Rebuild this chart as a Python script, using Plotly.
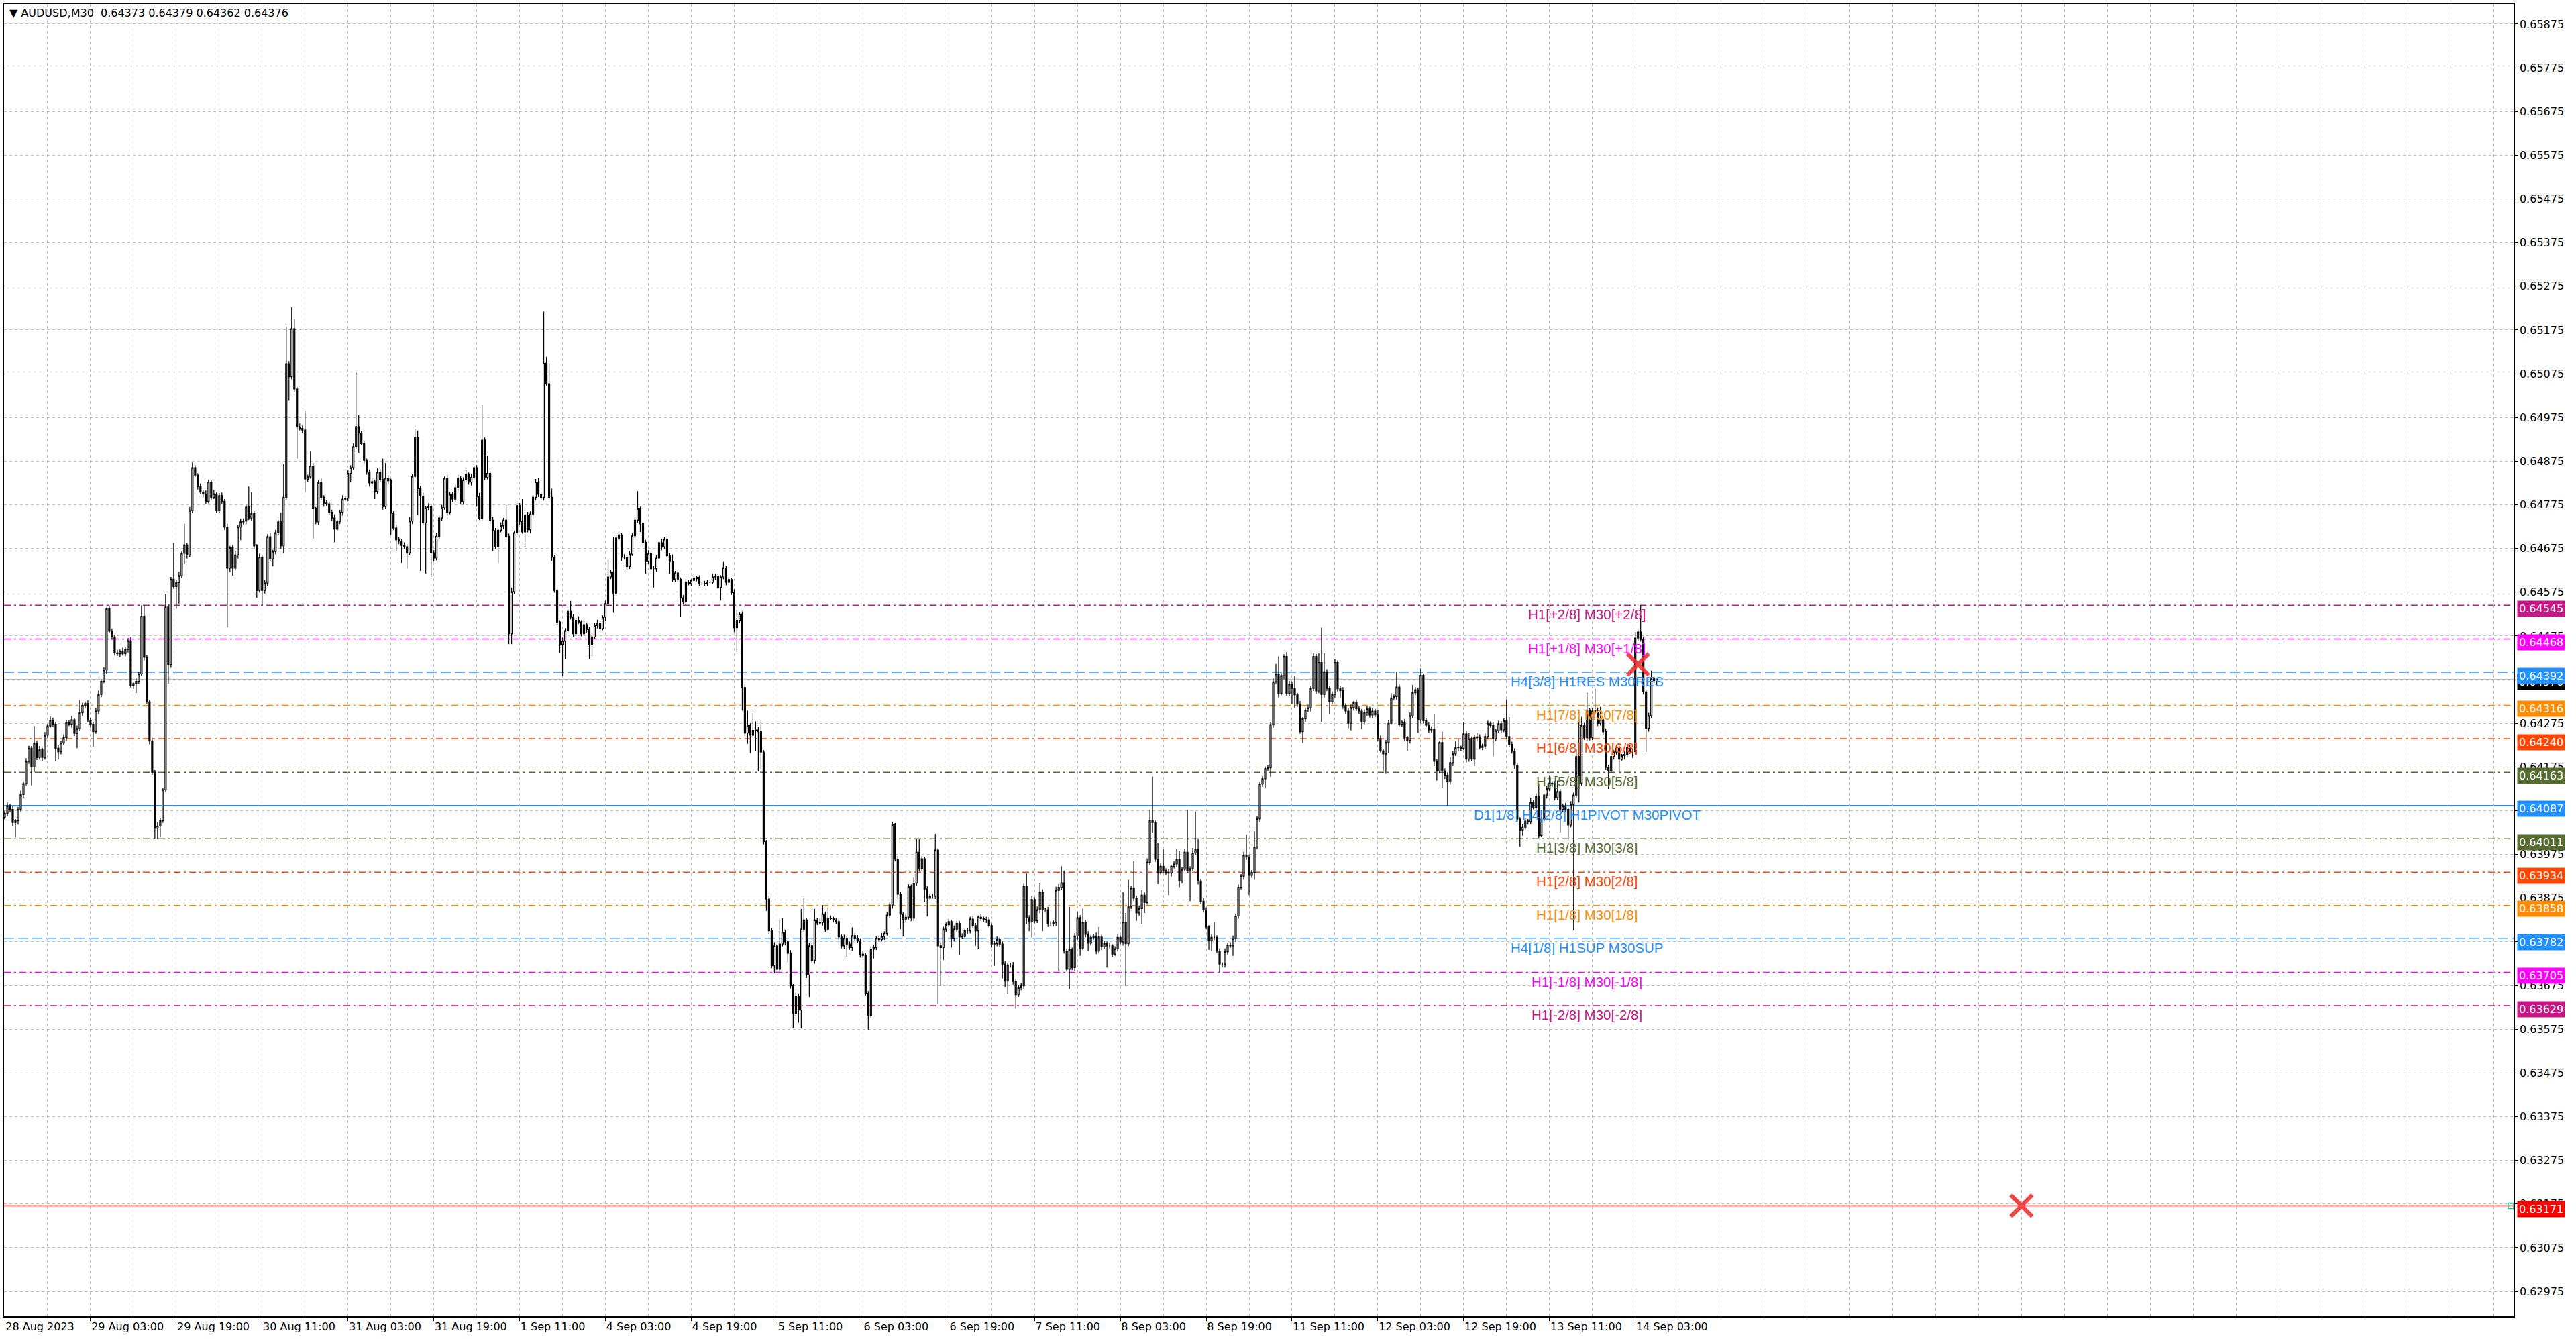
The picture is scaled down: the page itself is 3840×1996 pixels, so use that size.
import plotly.graph_objects as go

# AUDUSD M30 bars, 28 Aug 2023 11:00 .. 14 Sep 2023 07:00
# prices are points above 0.60000 (4373 -> 0.64373)
first_open = 4060

closes = [
    4069, 4086, 4078, 4048, 4052, 4078, 4112, 4137, 4188, 4218,
    4175, 4230, 4197, 4215, 4197, 4248, 4269, 4282, 4273, 4218,
    4210, 4230, 4242, 4277, 4273, 4283, 4252, 4263, 4299, 4316,
    4320, 4282, 4273, 4256, 4303, 4341, 4371, 4397, 4537, 4486,
    4473, 4436, 4434, 4440, 4434, 4444, 4464, 4362, 4366, 4371,
    4388, 4520, 4426, 4324, 4235, 4163, 4035, 4040, 4052, 4123,
    4541, 4409, 4605, 4588, 4597, 4613, 4664, 4683, 4660, 4762,
    4860, 4843, 4817, 4804, 4800, 4783, 4827, 4792, 4800, 4762,
    4796, 4783, 4724, 4630, 4677, 4630, 4660, 4724, 4736, 4738,
    4770, 4745, 4755, 4681, 4579, 4655, 4579, 4596, 4702, 4651,
    4668, 4711, 4736, 4681, 4792, 5098, 5068, 5178, 5040, 4953,
    4950, 4946, 4834, 4839, 4864, 4766, 4736, 4826, 4792, 4779,
    4777, 4758, 4745, 4719, 4737, 4758, 4788, 4790, 4847, 4860,
    4908, 4954, 4939, 4915, 4877, 4850, 4825, 4828, 4806, 4850,
    4833, 4771, 4836, 4830, 4756, 4722, 4695, 4692, 4682, 4679,
    4665, 4738, 4840, 4930, 4812, 4795, 4734, 4768, 4771, 4665,
    4653, 4703, 4745, 4768, 4836, 4758, 4799, 4788, 4814, 4836,
    4782, 4832, 4845, 4827, 4838, 4860, 4794, 4744, 4923, 4838,
    4847, 4740, 4716, 4679, 4717, 4727, 4740, 4703, 4480, 4576,
    4711, 4773, 4737, 4713, 4751, 4718, 4754, 4792, 4827, 4799,
    4792, 5099, 5052, 4792, 4655, 4579, 4507, 4456, 4463, 4487,
    4531, 4518, 4480, 4511, 4507, 4480, 4501, 4490, 4456, 4473,
    4499, 4504, 4492, 4518, 4549, 4610, 4621, 4573, 4699, 4706,
    4655, 4655, 4634, 4662, 4704, 4740, 4766, 4732, 4689, 4645,
    4663, 4629, 4629, 4653, 4688, 4679, 4696, 4658, 4645, 4604,
    4619, 4605, 4562, 4553, 4598, 4595, 4602, 4606, 4609, 4594,
    4594, 4595, 4598, 4598, 4610, 4612, 4586, 4610, 4631, 4598,
    4604, 4574, 4494, 4511, 4525, 4357, 4253, 4270, 4248, 4259,
    4260, 4256, 4209, 4004, 3873, 3800, 3720, 3766, 3712, 3770,
    3797, 3775, 3749, 3674, 3611, 3651, 3619, 3804, 3825, 3699,
    3766, 3733, 3825, 3818, 3819, 3839, 3804, 3829, 3828, 3825,
    3821, 3786, 3766, 3783, 3770, 3762, 3789, 3783, 3777, 3747,
    3744, 3657, 3607, 3758, 3762, 3783, 3780, 3787, 3794, 3836,
    3859, 4043, 3964, 3884, 3838, 3827, 3831, 3901, 3829, 3909,
    3980, 3943, 3965, 3896, 3875, 3880, 3880, 3985, 3766, 3762,
    3804, 3814, 3821, 3783, 3804, 3817, 3786, 3787, 3800, 3800,
    3827, 3812, 3800, 3831, 3828, 3826, 3825, 3812, 3770, 3771,
    3780, 3770, 3724, 3685, 3722, 3722, 3684, 3654, 3670, 3674,
    3903, 3830, 3820, 3872, 3823, 3848, 3889, 3848, 3848, 3816,
    3816, 3819, 3893, 3900, 3910, 3754, 3712, 3757, 3716, 3788,
    3830, 3761, 3820, 3792, 3772, 3785, 3788, 3754, 3786, 3764,
    3771, 3766, 3766, 3747, 3759, 3785, 3775, 3820, 3771, 3855,
    3898, 3875, 3841, 3851, 3882, 3865, 3957, 4053, 4048, 3964,
    3934, 3948, 3938, 3934, 3932, 3948, 3953, 3964, 3914, 3941,
    3980, 3938, 3942, 3978, 3987, 3914, 3868, 3848, 3809, 3778,
    3785, 3785, 3754, 3724, 3724, 3752, 3768, 3766, 3782, 3834,
    3900, 3925, 3973, 3969, 3927, 3934, 3992, 4056, 4136, 4148,
    4171, 4173, 4272, 4370, 4388, 4344, 4384, 4428, 4344, 4365,
    4355, 4340, 4319, 4256, 4285, 4305, 4310, 4355, 4428, 4349,
    4414, 4341, 4393, 4355, 4324, 4341, 4414, 4354, 4350, 4316,
    4303, 4275, 4311, 4322, 4308, 4303, 4278, 4300, 4308, 4294,
    4303, 4294, 4240, 4212, 4205, 4231, 4275, 4333, 4336, 4358,
    4273, 4278, 4242, 4236, 4292, 4345, 4352, 4283, 4385, 4281,
    4271, 4260, 4262, 4188, 4166, 4231, 4166, 4155, 4141, 4185,
    4205, 4220, 4219, 4218, 4251, 4193, 4240, 4193, 4242, 4244,
    4220, 4223, 4245, 4275, 4270, 4240, 4258, 4274, 4260, 4281,
    4245, 4227, 4211, 4179, 4056, 4031, 4037, 4051, 4050, 4094,
    4083, 4108, 4018, 4056, 4111, 4125, 4138, 4136, 4105, 4119,
    4078, 4086, 4078, 4042, 4089, 4111, 4199, 4138, 4270, 4242,
    4305, 4242, 4303, 4305, 4275, 4283, 4256, 4174, 4167, 4199,
    4209, 4218, 4193, 4201, 4204, 4219, 4210, 4210, 4470, 4484,
    4467, 4347, 4264, 4292, 4377, 4373, 4376,
]

# wick above the body / below the body, in points
wick_up = [
    6, 8, 5, 7, 4, 6, 9, 5, 7, 6,
    5, 39, 6, 8, 4, 7, 5, 9, 6, 5,
    7, 4, 8, 6, 5, 9, 4, 7, 29, 6,
    5, 8, 6, 4, 7, 9, 5, 6, 3, 8,
    6, 5, 7, 4, 8, 5, 6, 9, 4, 7,
    5, 25, 25, 6, 4, 7, 5, 8, 6, 4,
    29, 7, 5, 83, 6, 9, 4, 49, 5, 8,
    13, 6, 4, 7, 5, 8, 6, 5, 9, 4,
    6, 7, 5, 8, 4, 6, 9, 5, 7, 6,
    5, 47, 49, 6, 4, 8, 5, 7, 6, 9,
    4, 7, 5, 21, 76, 85, 6, 49, 22, 5,
    8, 6, 45, 5, 34, 7, 4, 6, 9, 5,
    7, 5, 6, 8, 4, 6, 9, 5, 7, 6,
    8, 126, 26, 5, 7, 4, 6, 8, 5, 9,
    6, 48, 35, 7, 5, 4, 8, 6, 5, 7,
    6, 9, 5, 19, 15, 6, 8, 4, 7, 5,
    6, 8, 5, 7, 4, 9, 6, 5, 7, 8,
    5, 6, 9, 4, 7, 5, 6, 8, 81, 6,
    41, 5, 7, 6, 4, 8, 5, 35, 6, 9,
    5, 7, 6, 51, 4, 8, 6, 5, 7, 9,
    6, 118, 15, 47, 20, 5, 7, 4, 8, 6,
    5, 24, 7, 6, 9, 4, 8, 5, 6, 7,
    5, 8, 6, 4, 7, 38, 5, 80, 6, 9,
    4, 7, 5, 8, 6, 9, 40, 5, 7, 6,
    8, 5, 6, 7, 4, 9, 5, 8, 6, 16,
    5, 7, 4, 6, 8, 5, 3, 6, 4, 5,
    4, 6, 5, 3, 7, 5, 6, 4, 13, 5,
    6, 4, 8, 24, 5, 6, 7, 34, 5, 39,
    19, 6, 27, 5, 4, 7, 6, 8, 5, 55,
    32, 6, 5, 7, 4, 8, 6, 46, 50, 5,
    7, 6, 25, 4, 8, 20, 5, 25, 6, 4,
    5, 7, 6, 8, 4, 6, 19, 5, 7, 6,
    8, 5, 6, 4, 7, 5, 6, 8, 5, 7,
    6, 5, 4, 7, 6, 5, 8, 6, 5, 13,
    30, 30, 6, 5, 7, 4, 6, 37, 5, 8,
    6, 5, 7, 4, 8, 6, 5, 7, 4, 6,
    5, 7, 6, 4, 8, 5, 6, 7, 5, 6,
    7, 5, 6, 8, 5, 4, 7, 6, 5, 6,
    5, 28, 6, 7, 5, 8, 21, 6, 5, 7,
    6, 5, 8, 7, 38, 28, 6, 98, 5, 7,
    14, 6, 31, 5, 7, 6, 4, 8, 23, 5,
    6, 5, 7, 4, 6, 8, 5, 69, 21, 62,
    6, 61, 5, 7, 11, 6, 9, 24, 100, 5,
    37, 6, 39, 5, 7, 4, 6, 23, 19, 5,
    8, 97, 6, 12, 86, 24, 5, 7, 6, 4,
    7, 35, 5, 6, 4, 8, 5, 6, 7, 5,
    6, 5, 8, 48, 6, 5, 36, 7, 5, 6,
    5, 7, 6, 8, 23, 40, 6, 5, 10, 7,
    6, 28, 5, 7, 4, 6, 8, 5, 7, 6,
    21, 80, 42, 6, 5, 7, 7, 5, 6, 8,
    5, 6, 7, 4, 8, 6, 5, 7, 6, 5,
    6, 5, 11, 7, 4, 6, 8, 11, 5, 35,
    6, 5, 7, 4, 8, 18, 6, 5, 16, 4,
    5, 7, 6, 35, 5, 4, 25, 6, 8, 13,
    6, 14, 20, 5, 27, 6, 13, 5, 7, 9,
    6, 5, 7, 6, 4, 8, 5, 7, 6, 5,
    49, 44, 6, 7, 5, 4, 8, 6, 5, 11,
    6, 7, 30, 5, 4, 6, 17, 5, 7, 25,
    6, 5, 7, 4, 8, 6, 16, 84, 20, 6,
    40, 5, 7, 49, 6, 30, 5, 7, 6, 11,
    5, 7, 6, 4, 8, 5, 6, 7, 14, 5,
    61, 6, 5, 7, 19, 5, 3,
]

wick_down = [
    5, 7, 6, 8, 34, 9, 5, 7, 4, 6,
    42, 12, 6, 5, 8, 5, 7, 4, 6, 30,
    18, 6, 5, 7, 4, 8, 6, 34, 5, 7,
    6, 4, 8, 34, 5, 7, 6, 4, 8, 5,
    7, 6, 5, 8, 4, 6, 7, 5, 8, 21,
    6, 5, 7, 4, 8, 6, 25, 25, 26, 5,
    4, 43, 7, 5, 51, 48, 6, 25, 8, 5,
    6, 4, 7, 5, 8, 6, 5, 7, 4, 6,
    5, 7, 6, 136, 9, 17, 5, 8, 30, 6,
    7, 5, 6, 8, 17, 5, 34, 7, 6, 4,
    17, 6, 5, 7, 17, 5, 55, 6, 8, 72,
    5, 7, 30, 6, 4, 68, 5, 7, 6, 8,
    5, 6, 7, 30, 4, 6, 8, 5, 7, 21,
    6, 5, 45, 4, 7, 6, 8, 5, 18, 6,
    5, 7, 6, 8, 50, 5, 26, 7, 40, 6,
    36, 5, 7, 4, 61, 171, 6, 117, 5, 55,
    8, 5, 7, 6, 4, 8, 5, 7, 6, 9,
    5, 7, 4, 6, 8, 5, 23, 4, 7, 6,
    5, 8, 47, 6, 38, 5, 7, 4, 24, 24,
    6, 5, 7, 4, 34, 6, 8, 5, 7, 6,
    5, 7, 4, 6, 8, 5, 6, 20, 72, 41,
    6, 5, 7, 8, 4, 6, 5, 7, 34, 27,
    5, 7, 6, 4, 8, 6, 5, 45, 7, 6,
    8, 5, 7, 6, 4, 5, 6, 19, 7, 28,
    5, 6, 43, 7, 4, 8, 6, 5, 28, 6,
    5, 7, 44, 6, 8, 4, 5, 3, 6, 4,
    5, 4, 6, 3, 5, 6, 4, 30, 5, 7,
    6, 5, 10, 56, 7, 53, 6, 25, 41, 5,
    48, 91, 40, 6, 27, 7, 5, 17, 6, 8,
    5, 7, 21, 6, 34, 5, 29, 42, 6, 7,
    50, 6, 8, 5, 4, 7, 6, 5, 4, 6,
    5, 7, 6, 8, 29, 5, 7, 6, 4, 8,
    6, 5, 34, 7, 21, 6, 5, 4, 7, 5,
    6, 8, 5, 7, 34, 40, 6, 5, 7, 6,
    5, 7, 6, 29, 42, 5, 6, 7, 134, 88,
    29, 6, 5, 21, 7, 6, 41, 5, 4, 7,
    6, 5, 34, 42, 5, 6, 7, 4, 8, 50,
    6, 7, 33, 15, 29, 6, 7, 32, 5, 6,
    7, 14, 21, 35, 6, 5, 8, 49, 6, 7,
    5, 6, 8, 184, 7, 6, 5, 45, 6, 7,
    8, 18, 5, 7, 18, 6, 5, 7, 6, 8,
    5, 50, 6, 7, 4, 6, 5, 8, 97, 6,
    5, 7, 18, 6, 35, 24, 5, 7, 23, 6,
    27, 5, 7, 6, 50, 8, 5, 7, 14, 6,
    5, 7, 70, 6, 5, 8, 7, 6, 5, 21,
    24, 6, 5, 19, 7, 8, 6, 5, 23, 7,
    6, 5, 8, 7, 45, 6, 17, 5, 7, 6,
    22, 5, 20, 7, 6, 10, 5, 8, 6, 7,
    35, 30, 6, 5, 26, 7, 5, 8, 6, 7,
    5, 63, 7, 6, 28, 5, 7, 6, 16, 8,
    6, 11, 16, 7, 5, 6, 16, 5, 8, 6,
    7, 5, 6, 4, 39, 45, 24, 2, 6, 7,
    5, 6, 8, 24, 7, 5, 6, 30, 8, 6,
    5, 7, 6, 11, 22, 5, 39, 7, 55, 6,
    8, 5, 7, 6, 4, 8, 6, 5, 16, 7,
    5, 6, 8, 7, 5, 41, 6, 4, 7, 5,
    6, 7, 5, 8, 6, 38, 13, 5, 7, 6,
    5, 7, 6, 3, 6, 8, 5, 7, 6, 5,
    52, 7, 6, 30, 5, 288, 7, 44, 6, 5,
    7, 6, 5, 8, 6, 5, 7, 6, 42, 5,
    7, 6, 30, 5, 8, 6, 5, 14, 6, 7,
    5, 6, 55, 8, 5, 6, 11,
]

date_labels = ["28 Aug 2023", "29 Aug 03:00", "29 Aug 19:00", "30 Aug 11:00",
               "31 Aug 03:00", "31 Aug 19:00", "1 Sep 11:00", "4 Sep 03:00",
               "4 Sep 19:00", "5 Sep 11:00", "6 Sep 03:00", "6 Sep 19:00",
               "7 Sep 11:00", "8 Sep 03:00", "8 Sep 19:00", "11 Sep 11:00",
               "12 Sep 03:00", "12 Sep 19:00", "13 Sep 11:00", "14 Sep 03:00"]

# murrey math levels drawn by the indicator
level_prices = [0.64545, 0.64468, 0.64392, 0.64316, 0.64240, 0.64163, 0.64087,
                0.64011, 0.63934, 0.63858, 0.63782, 0.63705, 0.63629]
level_names = ["H1[+2/8] M30[+2/8]", "H1[+1/8] M30[+1/8]", "H4[3/8] H1RES M30RES",
               "H1[7/8] M30[7/8]", "H1[6/8] M30[6/8]", "H1[5/8] M30[5/8]",
               "D1[1/8] H4[2/8] H1PIVOT M30PIVOT", "H1[3/8] M30[3/8]",
               "H1[2/8] M30[2/8]", "H1[1/8] M30[1/8]", "H4[1/8] H1SUP M30SUP",
               "H1[-1/8] M30[-1/8]", "H1[-2/8] M30[-2/8]"]
level_colors = ["#C71585", "#FF00FF", "#1E90FF", "#FF8C00", "#FF4500", "#556B2F",
                "#1E90FF", "#556B2F", "#FF4500", "#FF8C00", "#1E90FF", "#FF00FF",
                "#C71585"]
level_dash = ["dd", "dd", "dash", "dd", "dd", "dd", "solid", "dd", "dd", "dd",
              "dash", "dd", "dd"]

bid_price = 0.64376
stop_price = 0.63171
cross_bars = [609, 752]
cross_prices = [0.64410, 0.63171]

assert len(closes) == len(wick_up) == len(wick_down)

# ---- build OHLC
bars = list(range(len(closes)))
opens = [first_open] + closes[:-1]
highs = [max(o, c) + u for o, c, u in zip(opens, closes, wick_up)]
lows = [min(o, c) - d for o, c, d in zip(opens, closes, wick_down)]


def px(v):
    return 0.6 + v / 100000


fig = go.Figure()
fig.add_trace(go.Candlestick(
    x=bars, open=[px(v) for v in opens], high=[px(v) for v in highs],
    low=[px(v) for v in lows], close=[px(v) for v in closes],
    increasing=dict(line=dict(color="black", width=1.2), fillcolor="white"),
    decreasing=dict(line=dict(color="black", width=1.2), fillcolor="black"),
    whiskerwidth=0, showlegend=False, hoverinfo="skip"))

dash_map = {"dd": "10px,5px,3px,5px", "dash": "15px,6px", "solid": "solid"}
for p, c, d in zip(level_prices, level_colors, level_dash):
    fig.add_shape(type="line", xref="paper", x0=0, x1=1, y0=p, y1=p,
                  line=dict(color=c, width=1.5, dash=dash_map[d]), layer="below")
fig.add_shape(type="line", xref="paper", x0=0, x1=1, y0=bid_price, y1=bid_price,
              line=dict(color="#C0C0C0", width=1.5), layer="below")
fig.add_shape(type="line", xref="paper", x0=0, x1=1, y0=stop_price, y1=stop_price,
              line=dict(color="#FF0000", width=1.5), layer="below")

# level captions
for p, n, c in zip(level_prices, level_names, level_colors):
    fig.add_annotation(x=590, y=p, text=n, showarrow=False, xanchor="center",
                       yanchor="top", yshift=0,
                       font=dict(family="Liberation Sans, Arial", size=20.5, color=c))

# price tags on the right scale (current bid sits mostly under the 0.64392 tag)
tag_font = dict(family="DejaVu Sans", size=16, color="white")
fig.add_annotation(xref="paper", x=1, y=bid_price, text=f"{bid_price:.5f}",
                   showarrow=False, xanchor="left", xshift=5, yshift=-4,
                   bgcolor="black", borderpad=2, font=tag_font)
for p, c in zip(level_prices, level_colors):
    fig.add_annotation(xref="paper", x=1, y=p, text=f"{p:.5f}", showarrow=False,
                       xanchor="left", xshift=5, yshift=-5, bgcolor=c, borderpad=2,
                       font=tag_font)
fig.add_annotation(xref="paper", x=1, y=stop_price, text=f"{stop_price:.5f}",
                   showarrow=False, xanchor="left", xshift=5, yshift=-5,
                   bgcolor="#FF0000", borderpad=2, font=tag_font)

# crosses and small end marker
fig.add_trace(go.Scatter(x=cross_bars, y=cross_prices, mode="markers",
                         marker=dict(symbol="x-thin", size=32,
                                     line=dict(width=6, color="rgba(238,50,50,0.9)")),
                         showlegend=False, hoverinfo="skip"))
fig.add_trace(go.Scatter(x=[934.5], y=[stop_price], mode="markers",
                         marker=dict(symbol="square-open", size=8,
                                     line=dict(width=1.5, color="#FF0000")),
                         cliponaxis=False, showlegend=False, hoverinfo="skip"))

fig.add_annotation(xref="paper", yref="paper", x=0, y=1, xanchor="left",
                   yanchor="top", xshift=6, yshift=-2, showarrow=False,
                   text="\u25bc AUDUSD,M30\u00a0\u00a00.64373 0.64379 0.64362 0.64376",
                   font=dict(family="DejaVu Sans", size=16, color="black"))

grid = dict(showgrid=True, gridcolor="#C0C0C0", gridwidth=1, griddash="4px,4px")
fig.update_layout(
    width=3840, height=1996,
    margin=dict(l=4, r=93, t=4, b=34),
    paper_bgcolor="white", plot_bgcolor="white",
    showlegend=False,
    xaxis=dict(range=[-0.25, 935.5], rangeslider=dict(visible=False),
               tickmode="array", tickvals=list(range(0, 32 * len(date_labels), 32)),
               ticktext=date_labels, ticks="outside", ticklen=5, tickcolor="black",
               ticklabelposition="outside right",
               tickfont=dict(family="DejaVu Sans", size=16, color="black"),
               showline=True, mirror=True, linecolor="black", linewidth=1.5,
               zeroline=False,
               minor=dict(tickmode="linear", tick0=0, dtick=16, showgrid=True,
                          gridcolor="#C0C0C0", griddash="4px,4px", ticks=""),
               **grid),
    yaxis=dict(range=[0.629183, 0.659210], side="right", tick0=0.62975, dtick=0.001,
               tickformat=".5f", ticks="outside", ticklen=4, tickcolor="black",
               tickfont=dict(family="DejaVu Sans", size=16, color="black"),
               showline=True, mirror=True, linecolor="black", linewidth=1.5,
               zeroline=False, **grid),
)

fig.write_html("out.html", config={"displayModeBar": False},
               post_script="document.body.style.margin='0';")
